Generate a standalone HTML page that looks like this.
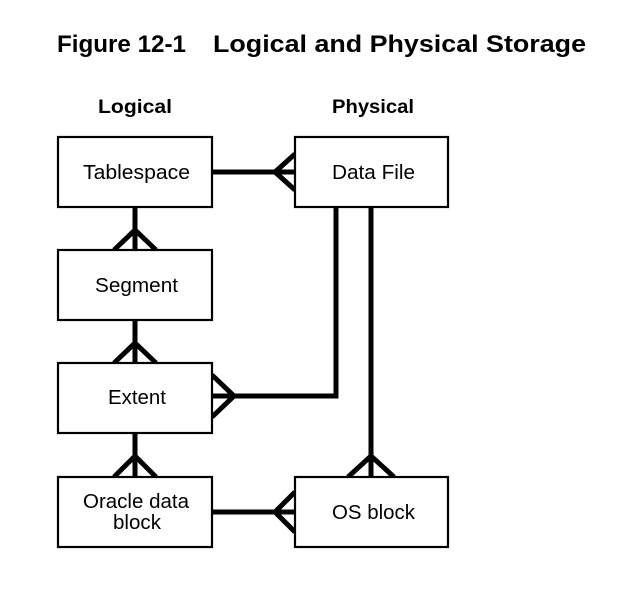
<!DOCTYPE html>
<html><head><meta charset="utf-8"><style>
html,body{margin:0;padding:0;background:#fff;}
svg{display:block;}
text{font-family:"Liberation Sans",Arial,sans-serif;fill:#000;}
</style></head><body>
<svg width="618" height="590" viewBox="0 0 618 590" xmlns="http://www.w3.org/2000/svg">
<text x="57" y="52" font-size="24" font-weight="bold" textLength="129" lengthAdjust="spacingAndGlyphs">Figure 12-1</text>
<text x="213" y="52" font-size="24" font-weight="bold" textLength="373" lengthAdjust="spacingAndGlyphs">Logical and Physical Storage</text>
<text x="98" y="113" font-size="19" font-weight="bold" textLength="74" lengthAdjust="spacingAndGlyphs">Logical</text>
<text x="332" y="113" font-size="19" font-weight="bold" textLength="82" lengthAdjust="spacingAndGlyphs">Physical</text>
<g fill="none" stroke="#000" stroke-width="5" stroke-linejoin="miter">
<line x1="212" y1="172" x2="295" y2="172"/>
<polyline points="295,154 275,172 295,190"/>
<line x1="135" y1="207" x2="135" y2="250"/>
<polyline points="114,250 135,230 156,250"/>
<line x1="135" y1="320" x2="135" y2="363"/>
<polyline points="114,363 135,343 156,363"/>
<line x1="135" y1="433" x2="135" y2="477"/>
<polyline points="114,477 135,456 156,477"/>
<polyline points="336,207 336,396 212,396"/>
<polyline points="212,375 234,396 212,417"/>
<line x1="371" y1="207" x2="371" y2="477"/>
<polyline points="348,477 371,456 394,477"/>
<line x1="212" y1="512" x2="295" y2="512"/>
<polyline points="295,492 275,512 295,532"/>
</g>
<g fill="#fff" stroke="#000" stroke-width="2.2">
<rect x="58" y="137" width="154" height="70"/>
<rect x="58" y="250" width="154" height="70"/>
<rect x="58" y="363" width="154" height="70"/>
<rect x="58" y="477" width="154" height="70"/>
<rect x="295" y="137" width="153" height="70"/>
<rect x="295" y="477" width="153" height="70"/>
</g>
<g font-size="20" lengthAdjust="spacingAndGlyphs">
<text x="83" y="179" textLength="107" lengthAdjust="spacingAndGlyphs">Tablespace</text>
<text x="95" y="292" textLength="83" lengthAdjust="spacingAndGlyphs">Segment</text>
<text x="108" y="404" textLength="58" lengthAdjust="spacingAndGlyphs">Extent</text>
<text x="83" y="508" textLength="106" lengthAdjust="spacingAndGlyphs">Oracle data</text>
<text x="113" y="529" textLength="48" lengthAdjust="spacingAndGlyphs">block</text>
<text x="332" y="179" textLength="83" lengthAdjust="spacingAndGlyphs">Data File</text>
<text x="332" y="519" textLength="83" lengthAdjust="spacingAndGlyphs">OS block</text>
</g>
</svg>
</body></html>
